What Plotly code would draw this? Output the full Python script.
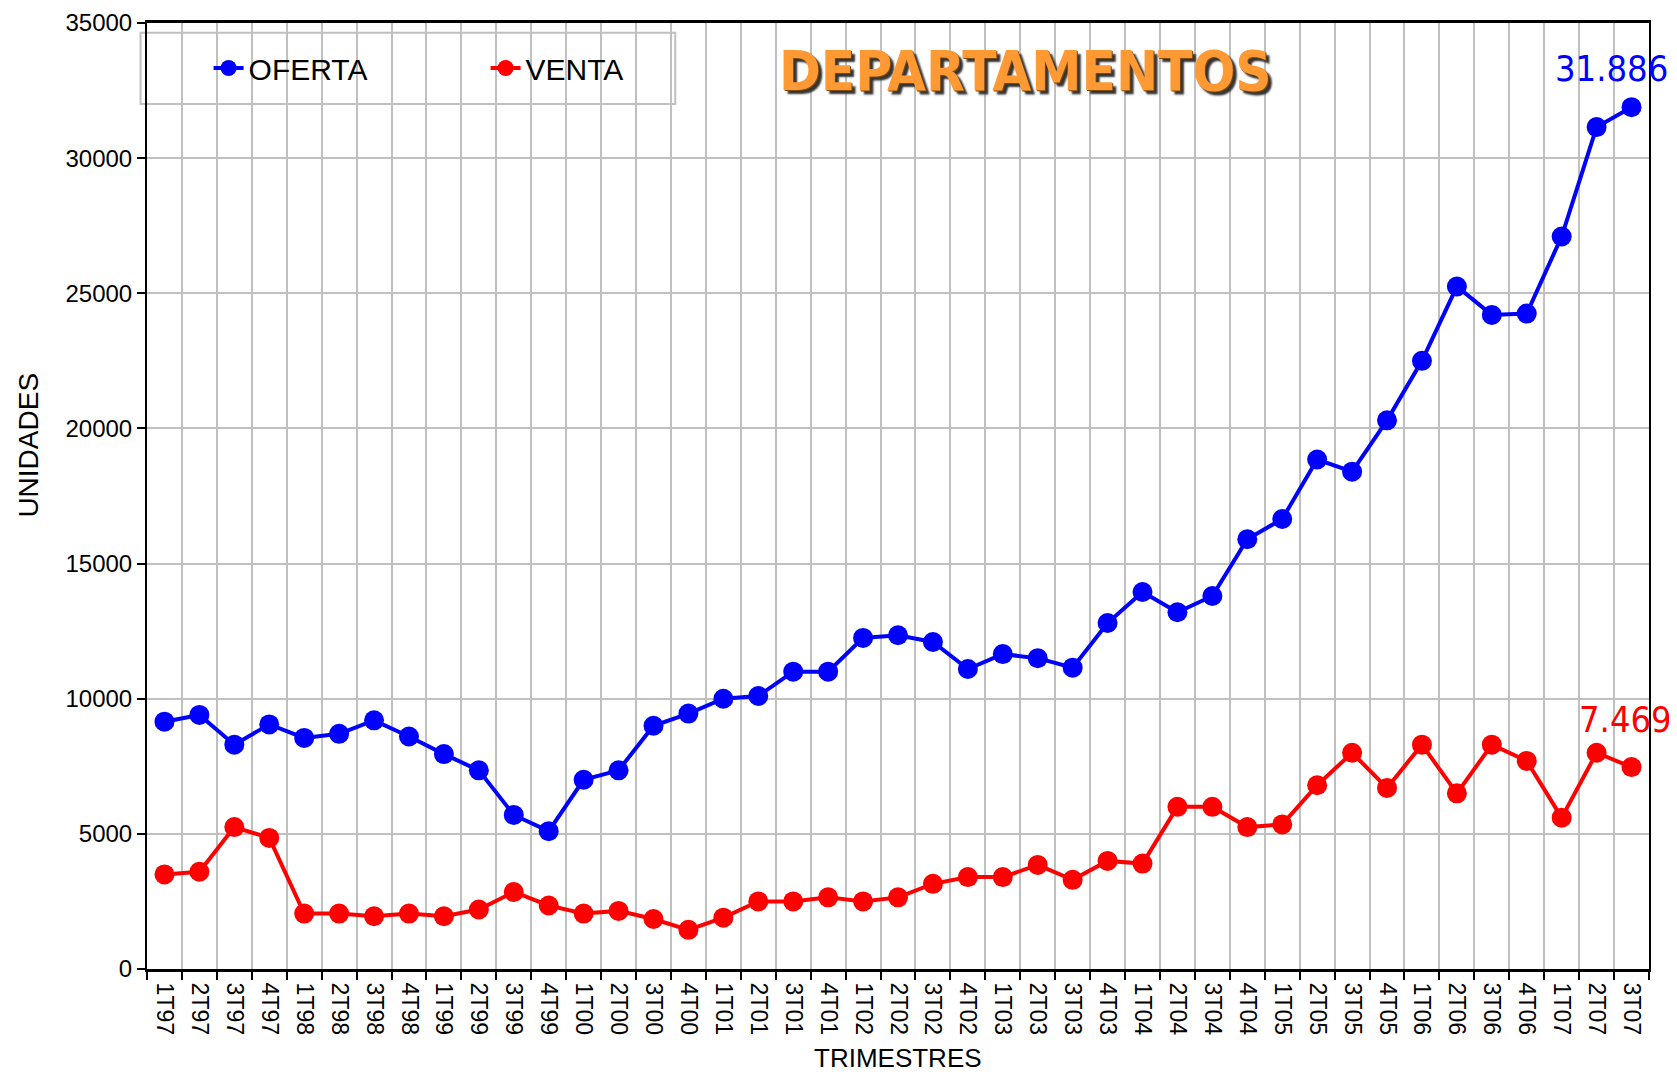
import plotly.graph_objects as go

quarters = [
    "1T97", "2T97", "3T97", "4T97",
    "1T98", "2T98", "3T98", "4T98",
    "1T99", "2T99", "3T99", "4T99",
    "1T00", "2T00", "3T00", "4T00",
    "1T01", "2T01", "3T01", "4T01",
    "1T02", "2T02", "3T02", "4T02",
    "1T03", "2T03", "3T03", "4T03",
    "1T04", "2T04", "3T04", "4T04",
    "1T05", "2T05", "3T05", "4T05",
    "1T06", "2T06", "3T06", "4T06",
    "1T07", "2T07", "3T07",
]

oferta = [
    9150, 9400, 8300, 9050,
    8550, 8700, 9200, 8600,
    7950, 7350, 5700, 5100,
    7000, 7350, 9000, 9450,
    10000, 10100, 11000, 11000,
    12250, 12350, 12100, 11100,
    11650, 11500, 11150, 12800,
    13950, 13200, 13800, 15900,
    16650, 18850, 18400, 20300,
    22500, 25250, 24200, 24250,
    27100, 31150, 31886,
]

venta = [
    3500, 3600, 5250, 4850,
    2050, 2050, 1950, 2050,
    1950, 2200, 2850, 2350,
    2050, 2150, 1850, 1450,
    1900, 2500, 2500, 2650,
    2500, 2650, 3150, 3400,
    3400, 3850, 3300, 4000,
    3900, 6000, 6000, 5250,
    5350, 6800, 8000, 6700,
    8300, 6500, 8300, 7700,
    5600, 8000, 7469,
]

oferta_label = "31.886"
venta_label = "7.469"

FONT = "Liberation Sans, Arial, sans-serif"
NARROW = "DejaVu Sans Condensed, Liberation Sans, sans-serif"

fig = go.Figure()
fig.add_trace(go.Scatter(
    x=quarters, y=oferta, name="OFERTA", mode="lines+markers",
    line=dict(color="#0000FF", width=4),
    marker=dict(color="#0000FF", size=20, symbol="circle"),
))
fig.add_trace(go.Scatter(
    x=quarters, y=venta, name="VENTA", mode="lines+markers",
    line=dict(color="#FF0000", width=4),
    marker=dict(color="#FF0000", size=20, symbol="circle"),
))

# value labels on the last points
fig.add_annotation(
    x=quarters[-1], y=oferta[-1], text=oferta_label, showarrow=False,
    xshift=-20, yshift=39,
    font=dict(family=NARROW, size=36, color="#0000FF"),
)
fig.add_annotation(
    x=quarters[-1], y=venta[-1], text=venta_label, showarrow=False,
    xshift=-6, yshift=48,
    font=dict(family=NARROW, size=36, color="#FF0000"),
)
# chart title
fig.add_annotation(
    xref="paper", yref="paper", x=0.5847, y=0.9503, xanchor="center", yanchor="middle",
    text="<b>DEPARTAMENTOS</b>", showarrow=False,
    font=dict(family=NARROW, size=56, color="#FF9933",
              shadow="1px 1px 0px #7a4a10, 4px 4px 2px #333333"),
)
# axis titles
fig.add_annotation(
    xref="paper", yref="paper", x=-0.0795, y=0.5539, xanchor="center", yanchor="middle",
    text="UNIDADES", textangle=-90, showarrow=False,
    font=dict(family=FONT, size=28, color="black"),
)
fig.add_annotation(
    xref="paper", yref="paper", x=0.5, y=-0.0941, xanchor="center", yanchor="middle",
    text="TRIMESTRES", showarrow=False,
    font=dict(family=FONT, size=26, color="black"),
)

# legend frame
fig.add_shape(
    type="rect", xref="paper", yref="paper",
    x0=-0.0043, x1=0.3517, y0=0.9144, y1=0.9897,
    fillcolor="white", line=dict(color="#C0C0C0", width=2), layer="between",
)

fig.update_layout(
    width=1669, height=1068,
    margin=dict(l=139, r=28, t=15, b=107, autoexpand=False),
    paper_bgcolor="white", plot_bgcolor="white",
    font=dict(family=FONT, color="black"),
    showlegend=True,
    legend=dict(
        orientation="h", x=0.041, y=0.9524, xanchor="left", yanchor="middle",
        bgcolor="rgba(0,0,0,0)", borderwidth=0,
        font=dict(family=FONT, size=30, color="black"),
        entrywidth=232,
    ),
    xaxis=dict(
        type="category", range=[-0.5, len(quarters) - 0.5], automargin=False,
        tickson="boundaries", ticks="outside", ticklen=8, tickwidth=2, tickcolor="black",
        tickangle=90, tickfont=dict(family=FONT, size=23, color="black"),
        ticklabelstandoff=6, ticklabeloverflow="allow",
        showgrid=True, gridcolor="#C0C0C0", gridwidth=2,
        showline=True, linecolor="black", linewidth=3, mirror=True,
    ),
    yaxis=dict(
        range=[0, 35000], dtick=5000, tick0=0, tickformat="d", automargin=False,
        ticks="outside", ticklen=8, tickwidth=2, tickcolor="black",
        tickfont=dict(family=FONT, size=24, color="black"),
        ticklabeloverflow="allow",
        showgrid=True, gridcolor="#C0C0C0", gridwidth=2,
        showline=True, linecolor="black", linewidth=2, mirror=True,
        zeroline=False,
    ),
)

fig.write_html("out.html")
